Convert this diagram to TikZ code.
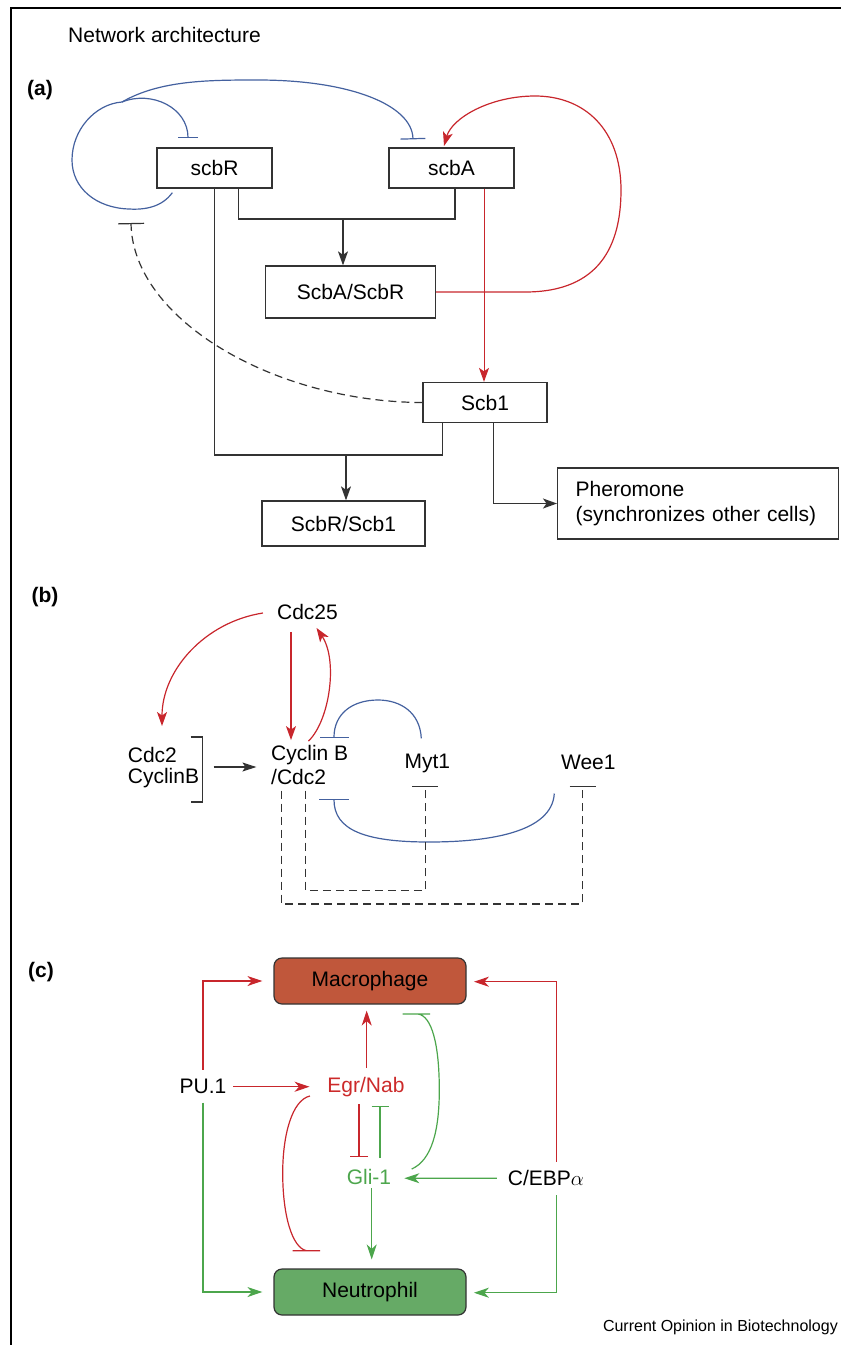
\documentclass[tikz,border=0pt]{standalone}
\usepackage{fontspec}
\setmainfont{Liberation Sans}
\usetikzlibrary{arrows.meta,calc}
\definecolor{myred}{HTML}{C8262C}
\definecolor{myblue}{HTML}{44619F}
\definecolor{mygreen}{HTML}{4CA64C}
\definecolor{macfill}{HTML}{C0573B}
\definecolor{neufill}{HTML}{66AA66}
\definecolor{lineg}{HTML}{333333}
\definecolor{egrred}{HTML}{CC2A2A}
\definecolor{gligreen}{HTML}{4DA64D}
\begin{document}
\begin{tikzpicture}[x=1pt,y=-1pt,
  every node/.style={font=\fontsize{21}{24}\selectfont, inner sep=0pt},
  lbl/.style={font=\bfseries\fontsize{21}{24}\selectfont},
  box/.style={draw=lineg, line width=1.3pt},
  lnk/.style={draw=lineg, line width=1.2pt},
  arr/.style={lnk, -{Stealth[length=14pt,width=10pt,inset=3.5pt]}},
  redl/.style={color=myred, line width=1.2pt},
  redarr/.style={redl, -{Stealth[length=14pt,width=10pt,inset=3.5pt]}},
  bluel/.style={color=myblue, line width=1.2pt},
  dsh/.style={lnk, dash pattern=on 8pt off 5pt},
  redc/.style={color=myred, line width=1.2pt},
  greenc/.style={color=mygreen, line width=1.2pt},
  arrc/.style={-{Stealth[length=15pt,width=10pt,inset=4.5pt]}},
  cbox/.style={draw=lineg, line width=1.2pt, rounded corners=8pt, minimum width=192pt, minimum height=46pt}
]
\useasboundingbox (0,0) rectangle (841,1345);
\draw[line width=2pt, black] (841,7.5) -- (10.7,7.5) -- (10.7,1345);

% ---------- panel (a)
\node[anchor=west] (title) at (68,35) {Network architecture};
\node[lbl] (la) at (40,90) {(a)};
\node[box, minimum width=115pt, minimum height=40pt] (scbR) at (214.5,168) {scbR};
\node[box, minimum width=125pt, minimum height=40pt] (scbA) at (451.5,168) {scbA};
\node[box, minimum width=170pt, minimum height=52pt] (AR) at (350.5,292) {ScbA/ScbR};
\node[box, minimum width=124pt, minimum height=40pt] (scb1) at (485,402.5) {Scb1};
\node[box, minimum width=163pt, minimum height=45pt] (R1) at (343.5,523.5) {ScbR/Scb1};
\node[box, anchor=west, text width=245pt, inner xsep=18pt, minimum height=71pt, align=left, font=\fontsize{21}{25}\selectfont] (pher) at (557,503.5) {Pheromone\\(synchronizes other cells)};

\draw[lnk] (238.7,0 |- scbR.south) -- (238.7,219) -- (455,219) -- (455,0 |- scbA.south);
\draw[arr] (343,219) -- (343,0 |- AR.north);
\draw[lnk] (214.6,0 |- scbR.south) -- (214.6,455) -- (442.6,455) -- (442.6,0 |- scb1.south);
\draw[arr] (346,455) -- (346,0 |- R1.north);
\draw[redarr, line width=1pt] (484,0 |- scbA.south) -- (484,0 |- scb1.north);
\draw[arr] (493.6,0 |- scb1.south) |- (pher.west);
\draw[redarr] (AR.east) -- (525,292) .. controls (600,292) and (621,245) .. (621,190)
   .. controls (621,130) and (585,96) .. (535,96) .. controls (490,96) and (452,118) .. (444,146);
\coordinate (jn) at (122,102);
\draw[bluel] ($(scbR.south west)+(16,4)$) .. controls (162,207) and (145,210) .. (129,209)
   .. controls (96,208) and (72,188) .. (72,160) .. controls (72,130) and (95,104) .. (jn);
\draw[bluel, -{Bar[width=20pt]}] (jn) .. controls (152,90) and (188,108) .. ($(scbR.north)+(-26.5,-9)$);
\draw[bluel, -{Bar[width=25pt]}] (jn) .. controls (160,80) and (210,80) .. (258,80)
   .. controls (350,80) and (412,105) .. ($(scbA.north)+(-38.5,-8)$);
\draw[dsh, -{Bar[width=26pt]}] (scb1.west) .. controls (275,402) and (133,320) .. (131,223);

% ---------- panel (b)
\node[lbl] (lb) at (45,597) {(b)};
\node (cdc25) at (307.5,612) {Cdc25};
\node[align=left, anchor=west, font=\fontsize{21}{21.3}\selectfont] (cdc2) at (127.7,767.3) {Cdc2\\CyclinB};
\node[align=left, anchor=west, font=\fontsize{21}{24}\selectfont] (cb) at (271,765) {Cyclin B\\/Cdc2};
\node (myt1) at (427.3,763) {Myt1};
\node (wee1) at (588.3,762) {Wee1};
\draw[lnk] (190.5,737) -- (202.8,737) -- (202.8,802) -- (190.5,802);
\draw[arr, -{Stealth[length=14pt,width=9pt,inset=3pt]}] (213.5,767) -- (256.4,767);
\draw[redarr] ($(cdc25.west)+(-14,1)$) .. controls (205,622) and (162,670) .. (162,726);
\draw[redarr] ($(cdc25.south)+(-16.5,12)$) -- ($(cb.north west)+(20,-5)$);
\draw[redarr] ($(cb.north west)+(37.5,-4)$) .. controls (330,720) and (338,660) .. ($(cdc25.south)+(9,8)$);
\draw[bluel, -{Bar[width=29pt]}] ($(myt1.north)+(-6,-15)$) .. controls (420,712) and (400,700) .. (378,700)
   .. controls (352,700) and (334,714) .. (334,738);
\draw[bluel, -{Bar[width=30pt]}] ($(wee1.south)+(-34,24)$) .. controls (552,832) and (490,842) .. (429,842)
   .. controls (365,842) and (334,830) .. (334,799);
\draw[dsh, -{Bar[width=26pt]}] (305.8,790.7) -- (305.8,890.7) -- (425.4,890.7) -- (425.4,786);
\draw[dsh, -{Bar[width=26pt]}] (281.6,790.7) -- (281.6,904) -- (582.6,904) -- (582.6,786);

% ---------- panel (c)
\node[lbl] (lc) at (41,972) {(c)};
\node[cbox, fill=macfill] (mac) at (370,981) {Macrophage};
\node[cbox, fill=neufill] (neu) at (370,1292) {Neutrophil};
\node (pu) at (203,1086.7) {PU.1};
\node[text=egrred] (egr) at (366,1086.7) {Egr/Nab};
\node[text=gligreen] (gli) at (369,1176.7) {Gli-1};
\node (ceb) at (546,1178.3) {C/EBP$\alpha$};

\draw[redc, arrc, shorten >=11pt] ($(pu)+(0,-17)$) |- (mac.west);
\draw[greenc, arrc, shorten >=11pt] ($(pu)+(0,16)$) |- (neu.west);
\draw[redc, arrc, shorten <=6.7pt, shorten >=17.7pt] (pu.east) -- (egr.west);
\draw[redc, arrc] ($(egr)+(0.7,-18.7)$) -- ($(mac.south)+(-3.3,6)$);
\draw[redc, -{Bar[width=18pt]}] ($(egr)+(-7,17.3)$) -- ($(gli)+(-10,-20)$);
\draw[greenc, -{Bar[width=17pt]}] ($(gli)+(11,-18.7)$) -- ($(egr)+(14,19)$);
\draw[greenc, arrc] ($(gli)+(2.7,11.3)$) -- ($(neu.north)+(1.7,-9)$);
\draw[redc] ($(egr)+(-56,9.3)$) .. controls (292,1100) and (282.7,1135) .. (282.7,1173)
   .. controls (282.7,1215) and (292,1248) .. (306.7,1250.7) (292.7,1250.7) -- (320,1250.7);
\draw[greenc] ($(gli)+(42.7,-7.7)$) .. controls (432,1160) and (439.3,1130) .. (439.3,1090)
   .. controls (439.3,1045) and (432,1016) .. (418,1014) (402.7,1014) -- (430,1014);
\draw[greenc, arrc] ($(ceb.west)+(-11,0)$) -- ($(gli.east)+(13,1.5)$);
\draw[redc, arrc] ($(ceb)+(10.7,-16.6)$) |- ($(mac.east)+(7.3,0.7)$);
\draw[greenc, arrc] ($(ceb)+(10.7,16.7)$) |- ($(neu.east)+(7.3,0.7)$);

\node[anchor=east, font=\fontsize{16}{19}\selectfont] (src) at (838,1327) {Current Opinion in Biotechnology};
\end{tikzpicture}
\end{document}
